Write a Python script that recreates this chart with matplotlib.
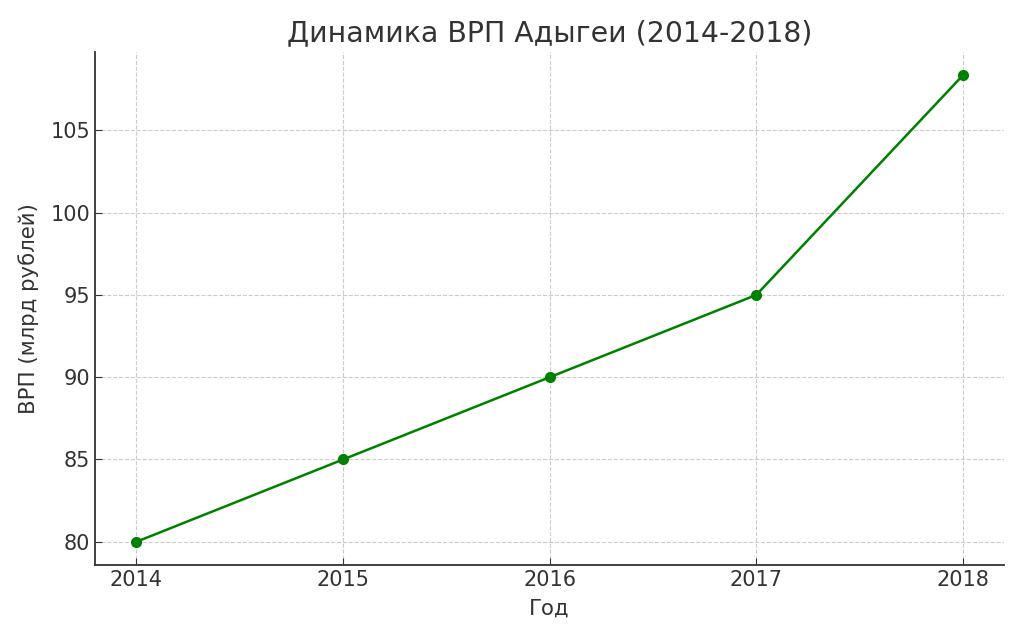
import matplotlib.pyplot as plt

years = [2014, 2015, 2016, 2017, 2018]
grp = [80, 85, 90, 95, 108.35]  # ВРП, млрд рублей

text_color = '#333333'

fig = plt.figure(figsize=(10.24, 6.4), dpi=100)
ax = fig.add_axes([0.0928, 0.117, 0.888, 0.802])

ax.plot(years, grp, color='green', linewidth=1.8, marker='o', markersize=7)

ax.set_title('Динамика ВРП Адыгеи (2014-2018)', fontsize=20.4, color=text_color, pad=8)
ax.set_xlabel('Год', fontsize=15.3, color=text_color, labelpad=6)
ax.set_ylabel('ВРП (млрд рублей)', fontsize=15.3, color=text_color, labelpad=8)
ax.set_xticks(years)
ax.tick_params(direction='in', labelsize=15, labelcolor=text_color, color=text_color, length=5)

ax.grid(True, linestyle='--', color='#cccccc', linewidth=0.8)
for side in ['top', 'right']:
    ax.spines[side].set_visible(False)
for side in ['left', 'bottom']:
    ax.spines[side].set_color(text_color)
    ax.spines[side].set_linewidth(1.3)

fig.savefig('out.png', dpi=100)
